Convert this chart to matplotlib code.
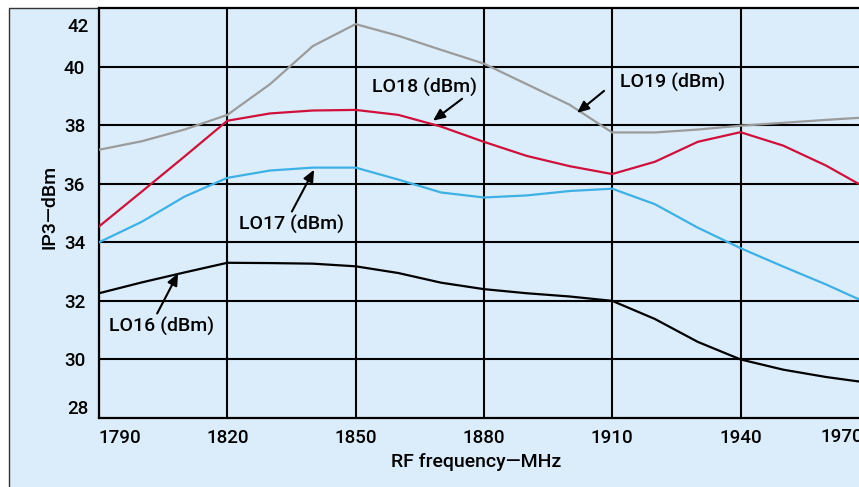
# IP3 versus RF frequency for four LO drive levels

import matplotlib.pyplot as plt
from matplotlib.patches import Rectangle

plt.rcParams["font.family"] = ["Roboto", "DejaVu Sans"]
plt.rcParams["font.weight"] = "medium"

freq = [1790, 1800, 1810, 1820, 1830, 1840, 1850, 1860, 1870, 1880,
        1890, 1900, 1910, 1920, 1930, 1940, 1950, 1960, 1970]

lo16 = [32.26, 32.63, 32.97, 33.30, 33.29, 33.27, 33.18, 32.95, 32.62, 32.40,
        32.26, 32.15, 32.00, 31.38, 30.60, 30.00, 29.65, 29.40, 29.20]
lo17 = [34.00, 34.70, 35.56, 36.20, 36.45, 36.55, 36.55, 36.14, 35.70, 35.53,
        35.60, 35.75, 35.83, 35.30, 34.50, 33.80, 33.17, 32.56, 31.90]
lo18 = [34.54, 35.73, 36.93, 38.15, 38.40, 38.50, 38.52, 38.35, 37.95, 37.43,
        36.95, 36.60, 36.33, 36.75, 37.43, 37.76, 37.30, 36.62, 35.80]
lo19 = [37.16, 37.45, 37.85, 38.35, 39.40, 40.70, 41.45, 41.05, 40.57, 40.10,
        39.40, 38.70, 37.75, 37.75, 37.85, 37.98, 38.08, 38.18, 38.27]

xticks = [1790, 1820, 1850, 1880, 1910, 1940]
yticks = [30, 32, 34, 36, 38, 40]

# label text, text position, arrow tail, arrow tip
notes = [
    ("LO16 (dBm)", (1804.7, 31.13), (1803.6, 31.57), (1808.5, 32.94)),
    ("LO17 (dBm)", (1834.9, 34.60), (1835.1, 35.05), (1840.3, 36.48)),
    ("LO18 (dBm)", (1866.0, 39.27), (1874.9, 38.90), (1868.1, 38.15)),
    ("LO19 (dBm)", (1924.0, 39.44), (1908.1, 39.17), (1901.8, 38.42)),
]

bg = "#dbedfb"
W, H = 859, 487
fs = 13.5

fig = plt.figure(figsize=(W / 100, H / 100), dpi=100, facecolor="white")
fig.patches.append(Rectangle((9 / W, -0.01), 1.0, 1 - 8 / H + 0.01, transform=fig.transFigure,
                             facecolor=bg, edgecolor="#333333", linewidth=1.0, zorder=-10))

ax = fig.add_axes([99 / W, (H - 418) / H, (W - 99) / W, (418 - 8) / H])
ax.set_facecolor(bg)

ax.plot(freq, lo19, color="#9b9b9b", lw=1.6, zorder=3)
ax.plot(freq, lo18, color="#d0103a", lw=1.6, zorder=3)
ax.plot(freq, lo17, color="#3db1e6", lw=1.6, zorder=3)
ax.plot(freq, lo16, color="black", lw=1.6, zorder=3)

ax.set_xlim(1790, 1790 + (W - 99) * 30 / 128.3)
ax.set_ylim(28, 42)
ax.set_xticks(xticks)
ax.set_yticks(yticks)
ax.grid(True, color="black", lw=1.5)
ax.set_axisbelow(True)
ax.tick_params(length=0, labelsize=fs)
ax.tick_params(axis="y", pad=10)
ax.tick_params(axis="x", pad=8)
for s in ["left", "bottom", "top"]:
    ax.spines[s].set_linewidth(1.6)
ax.spines["right"].set_visible(False)

xl = ax.get_xticklabels()
xl[0].set_ha("left")

# end labels that sit away from their grid lines
ax.annotate("42", xy=(0, 42), xycoords=("axes fraction", "data"), xytext=(-10, -19),
            textcoords="offset pixels", ha="right", va="center", fontsize=fs, annotation_clip=False)
ax.annotate("28", xy=(0, 28), xycoords=("axes fraction", "data"), xytext=(-10, 0),
            textcoords="offset pixels", ha="right", va="bottom", fontsize=fs, annotation_clip=False)
ax.annotate("1970", xy=(1970, 28), xytext=(-27, -10), textcoords="offset pixels",
            ha="center", va="top", fontsize=fs, annotation_clip=False)

for label, pos, tail, tip in notes:
    ax.text(pos[0], pos[1], label, ha="center", va="center", fontsize=14, zorder=5)
    ax.annotate("", xy=tip, xytext=tail,
                arrowprops=dict(arrowstyle="-|>,head_length=0.5,head_width=0.22",
                                color="black", lw=1.5, shrinkA=0, shrinkB=0, mutation_scale=14),
                zorder=5)

fig.text(476 / W, (H - 462) / H, "RF frequency\u2014MHz", ha="center", va="center", fontsize=14)
fig.text(50 / W, (H - 207) / H, "IP3\u2014dBm", ha="center", va="center", rotation=90, fontsize=14)

fig.savefig("out.png", dpi=100, facecolor="white")
